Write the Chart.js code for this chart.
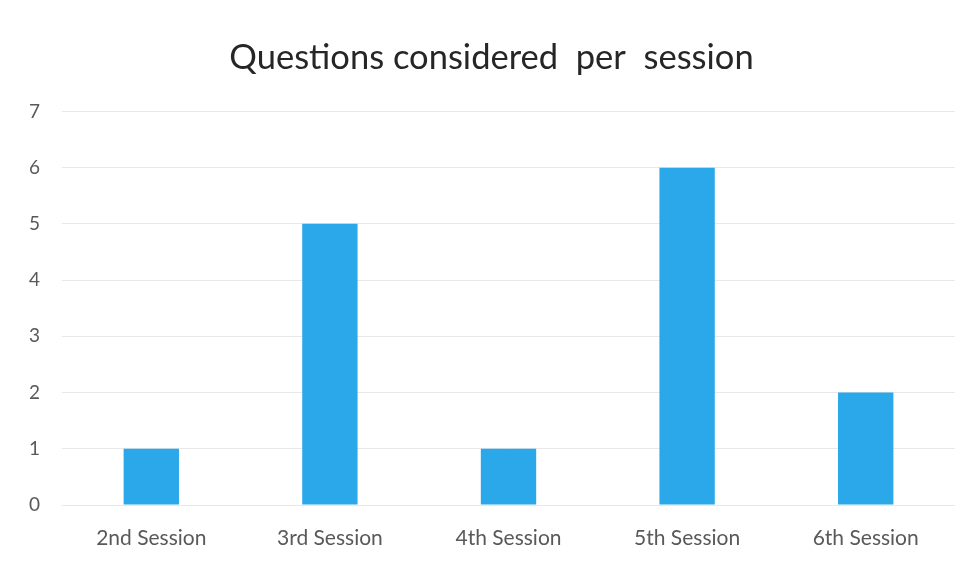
<!DOCTYPE html>
<html>
<head>
<meta charset="utf-8">
<script src="https://cdn.jsdelivr.net/npm/chart.js@4/dist/chart.umd.min.js"></script>
<style>
  html, body { margin: 0; padding: 0; background: #ffffff; }
  #wrap { width: 976px; height: 562px; }
</style>
</head>
<body>
<div id="wrap"><canvas id="sessionChart" width="976" height="562"></canvas></div>
<script>
const sessions = ["2nd Session", "3rd Session", "4th Session", "5th Session", "6th Session"];
const questions = [1, 5, 1, 6, 2];
const yTicks = [0, 1, 2, 3, 4, 5, 6, 7];

const ctx = document.getElementById("sessionChart");

// extra left padding pulls the centred title to the right like the original
new Chart(ctx, {
    type: "bar",
    data: {
        labels: sessions,
        datasets: [{
            label: "Questions",
            data: questions,
            backgroundColor: "#2ba8ea",
            barPercentage: 0.31,
            categoryPercentage: 1
        }]
    },
    options: {
        responsive: false,
        animation: false,
        layout: {
            padding: { left: 28, right: 21, top: 0, bottom: 0 }
        },
        plugins: {
            legend: { display: false },
            tooltip: { enabled: false },
            title: {
                display: true,
                text: "Questions considered  per  session",
                color: "#262626",
                font: { family: "Lato", size: 34.5, weight: "normal" },
                padding: { top: 37, bottom: 33 }
            }
        },
        scales: {
            x: {
                grid: { display: false },
                border: { display: false },
                ticks: {
                    color: "#595959",
                    font: { family: "Lato", size: 21 },
                    padding: 13
                },
                afterFit: function (scale) { scale.height = 57; }
            },
            y: {
                min: 0,
                max: 7,
                afterBuildTicks: function (scale) {
                    scale.ticks = yTicks.map(v => ({ value: v }));
                },
                grid: { color: "#e8e8e8", drawTicks: false },
                border: { display: false },
                ticks: {
                    color: "#595959",
                    font: { family: "Lato", size: 19 },
                    padding: 22
                },
                afterFit: function (scale) { scale.width = 34; }
            }
        }
    }
});
</script>
</body>
</html>
